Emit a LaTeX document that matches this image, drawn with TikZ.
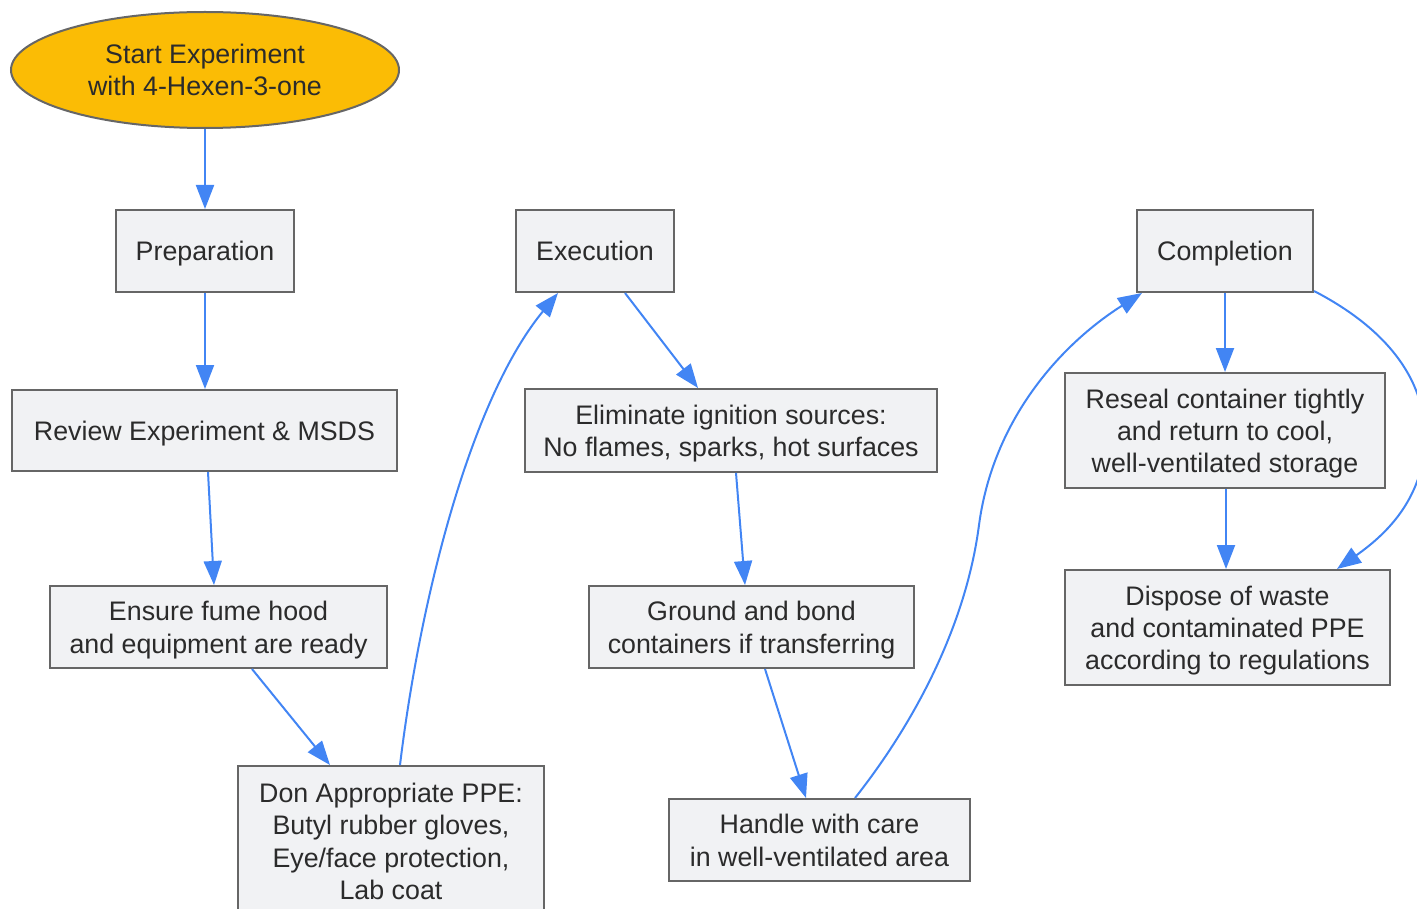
\documentclass[tikz,border=0pt]{standalone}
\usepackage{fontspec}
\setmainfont{Liberation Sans}
\usetikzlibrary{shapes.geometric,arrows.meta,calc}
\definecolor{edgeblue}{HTML}{4285F4}
\definecolor{boxfill}{HTML}{F1F2F4}
\definecolor{boxline}{HTML}{666666}
\definecolor{startfill}{HTML}{FBBC05}
\definecolor{txt}{HTML}{2B2B2B}
\newcommand\lnstrut{\rule[-3.4pt]{0pt}{16.4pt}}
\newcommand\tops{\rule{0pt}{13.3pt}}
\begin{document}
\begin{tikzpicture}[x=0.5pt,y=-0.5pt,
  base/.style={draw=boxline,line width=1pt,text=txt,align=center,inner sep=0pt,
    font=\fontsize{13.4}{16.2}\selectfont},
  stepbox/.style={base,rectangle,fill=boxfill,
    execute at begin node=\lnstrut,execute at end node=\lnstrut},
  startnode/.style={base,ellipse,fill=startfill},
  conn/.style={draw=edgeblue,line width=1pt,-{Triangle[length=12pt,width=9pt]}}]
\useasboundingbox (0,0) rectangle (1417,909);
\node[startnode,minimum width=194pt,minimum height=58pt] (start) at (205,70) {Start Experiment\\with 4-Hexen-3-one};
\node[stepbox,minimum width=89pt,minimum height=41pt] (prep) at (205,251) {Preparation};
\node[stepbox,minimum width=192.5pt,minimum height=40.5pt] (rev) at (204.5,430.5) {Review Experiment \& MSDS};
\node[stepbox,minimum width=168.5pt,minimum height=41pt] (ens) at (218.5,627) {\tops Ensure fume hood\\and equipment are ready};
\node[stepbox,minimum width=153pt,minimum height=75pt] (ppe) at (391,841) {\tops Don Appropriate PPE:\\Butyl rubber gloves,\\Eye/face protection,\\Lab coat};
\node[stepbox,minimum width=79pt,minimum height=41pt] (exec) at (595,251) {Execution};
\node[stepbox,minimum width=206pt,minimum height=41.5pt] (elim) at (731,430.5) {\tops Eliminate ignition sources:\\No flames, sparks, hot surfaces};
\node[stepbox,minimum width=162.5pt,minimum height=41pt] (ground) at (751.5,627) {\tops Ground and bond\\containers if transferring};
\node[stepbox,minimum width=150.5pt,minimum height=41pt] (handle) at (819.5,840) {\tops Handle with care\\in well-ventilated area};
\node[stepbox,minimum width=88pt,minimum height=41pt] (comp) at (1225,251) {Completion};
\node[stepbox,minimum width=160pt,minimum height=57.5pt] (reseal) at (1225,430.5) {\tops Reseal container tightly\\and return to cool,\\well-ventilated storage};
\node[stepbox,minimum width=162.5pt,minimum height=57.5pt] (disp) at (1227.5,627.5) {\tops Dispose of waste\\and contaminated PPE\\according to regulations};

\draw[conn] (start.south) -- (prep.north);
\draw[conn] (prep.south) -- (prep.south |- rev.north);
\draw[conn] ($(rev.south)+(3.5,0)$) -- ($(ens.north)+(-4.5,0)$);
\draw[conn] ($(ens.south)+(33.5,0)$) -- ($(ppe.north)+(-61,0)$);
\draw[conn] ($(ppe.north)+(9,0)$) .. controls (420,600) and (470,400) .. ($(exec.south)+(-37,0)$);
\draw[conn] ($(exec.south)+(30,0)$) -- ($(elim.north)+(-33,0)$);
\draw[conn] ($(elim.south)+(5,0)$) -- ($(ground.north)+(-6.5,0)$);
\draw[conn] ($(ground.south)+(13.5,0)$) -- ($(handle.north)+(-13.5,0)$);
\coordinate (hc) at (979,525);
\draw[conn] ($(handle.north)+(35.5,0)$) .. controls (915,722) and (966,625) .. (hc)
  .. controls (993,420) and (1060,345) .. ($(comp.south)+(-83,0)$);
\draw[conn] (comp.south) -- (reseal.north);
\draw[conn] ($(reseal.south)+(1,0)$) -- ($(disp.north)+(-1.5,0)$);
\coordinate (cr) at (1424,455);
\draw[conn] ($(comp.south east)+(0,-2)$) .. controls (1395,333) and (1432,390) .. (cr)
  .. controls (1416,505) and (1385,535) .. ($(disp.north)+(109.5,0)$);
\end{tikzpicture}
\end{document}
